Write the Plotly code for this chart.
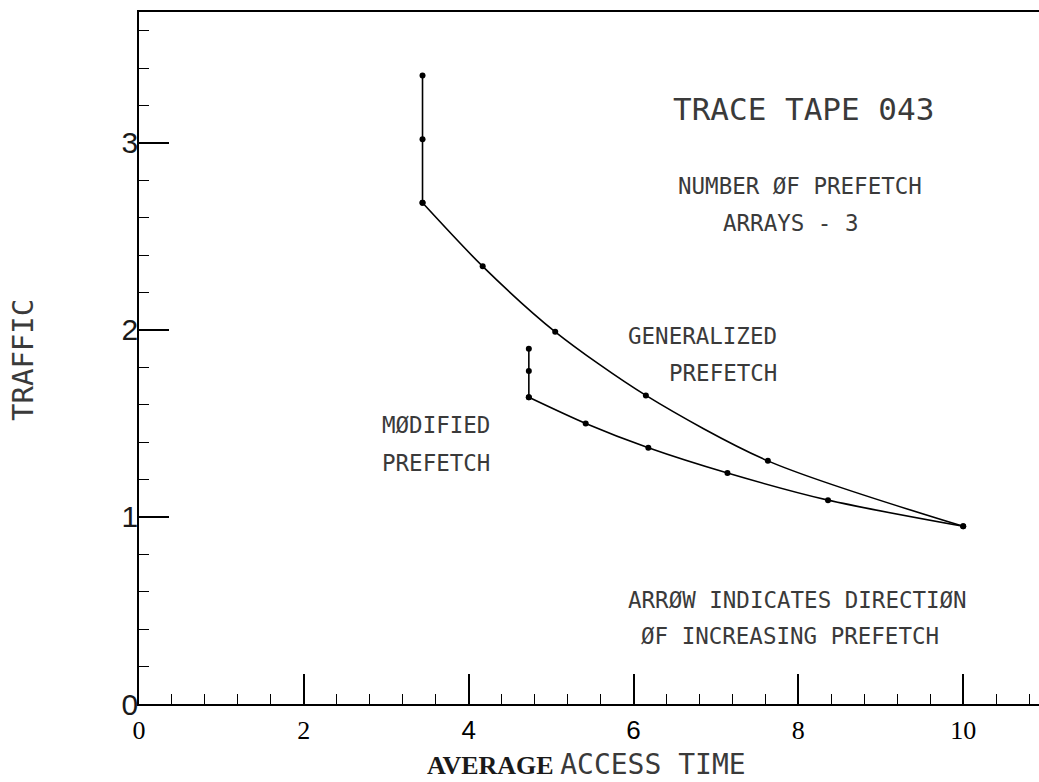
import plotly.graph_objects as go

# Average access time vs. traffic, two prefetch strategies
gen_x = [3.44, 3.44, 3.44, 4.17, 5.05, 6.15, 7.63, 10.0]
gen_y = [3.36, 3.02, 2.68, 2.34, 1.99, 1.65, 1.30, 0.95]

mod_x = [4.73, 4.73, 4.73, 5.42, 6.18, 7.14, 8.36, 10.0]
mod_y = [1.90, 1.78, 1.64, 1.50, 1.37, 1.235, 1.09, 0.95]

x_tick_vals = [0, 2, 4, 6, 8, 10]
x_tick_text = ["0", "2", "4", "6", "8", "10"]
y_tick_vals = [0, 1, 2, 3]
y_tick_text = ["0", "1", "2", "3"]

PLOTTER = "DejaVu Sans Mono"
SANS = "Liberation Sans"
SERIF = "Liberation Serif"
INK = "#1a1a1a"
PEN = "#3a3a3a"


def sans_span(t):
    return f"<span style=\"font-family:'{SANS}'\">{t}</span>"


# the 4 and 6 labels were lettered with the stencil face
x_tick_labels = [sans_span(t) if t in ("4", "6") else t for t in x_tick_text]

fig = go.Figure()

line_style = dict(color="black", width=1.6)
marker_style = dict(color="black", size=6)

for xs, ys in ((gen_x, gen_y), (mod_x, mod_y)):
    # straight vertical run at the smallest prefetch sizes
    fig.add_trace(go.Scatter(x=xs[:3], y=ys[:3], mode="lines+markers",
                             line=line_style, marker=marker_style,
                             showlegend=False, hoverinfo="skip"))
    # smooth curve from the corner outwards
    fig.add_trace(go.Scatter(x=xs[2:], y=ys[2:], mode="lines+markers",
                             line=dict(shape="spline", smoothing=0.8, **line_style),
                             marker=marker_style,
                             showlegend=False, hoverinfo="skip"))

notes = [
    ("TRACE TAPE 043", 8.06, 3.18, 31, "center"),
    ("NUMBER ØF PREFETCH", 8.02, 2.77, 22.5, "center"),
    ("ARRAYS - 3", 7.90, 2.57, 22.5, "center"),
    ("GENERALIZED", 7.76, 1.97, 22.5, "right"),
    ("PREFETCH", 7.76, 1.77, 22.5, "right"),
    ("MØDIFIED", 2.92, 1.49, 22.5, "left"),
    ("PREFETCH", 2.92, 1.29, 22.5, "left"),
    ("ARRØW INDICATES DIRECTIØN", 7.99, 0.556, 22.5, "center"),
    ("ØF INCREASING PREFETCH", 7.90, 0.364, 22.5, "center"),
]
for text, x, y, size, anchor in notes:
    fig.add_annotation(x=x, y=y, xref="x", yref="y", text=text, showarrow=False,
                       xanchor=anchor, yanchor="middle",
                       font=dict(family=PLOTTER, size=size, color=PEN))

# axis titles
fig.add_annotation(
    x=0.497, y=-0.087, xref="paper", yref="paper", showarrow=False,
    xanchor="center", yanchor="middle",
    text=(f"<b>AVERAGE</b> "
          f"<span style=\"font-family:'{PLOTTER}';font-size:28px;fill:{PEN}\">ACCESS TIME</span>"),
    font=dict(family=SERIF, size=26, color=INK))
fig.add_annotation(
    x=-0.129, y=0.497, xref="paper", yref="paper", showarrow=False,
    xanchor="center", yanchor="middle", textangle=-90,
    text="TRAFFIC", font=dict(family=PLOTTER, size=29, color=PEN))

fig.update_xaxes(
    range=[0, 10.92], showgrid=False, zeroline=False,
    showline=True, linecolor="black", linewidth=1.5, mirror=True,
    ticks="inside", ticklen=30, tickwidth=1.5, tickcolor="black",
    tickvals=x_tick_vals, ticktext=x_tick_labels,
    tickfont=dict(family=SERIF, size=26, color="black"),
    ticklabelstandoff=2,
    minor=dict(ticks="inside", ticklen=10, tickwidth=1.3, tickcolor="black",
               dtick=0.4, showgrid=False),
)
fig.update_yaxes(
    range=[0, 3.70], showgrid=False, zeroline=False,
    showline=True, linecolor="black", linewidth=1.5, mirror=False,
    ticks="inside", ticklen=30, tickwidth=1.5, tickcolor="black",
    tickvals=y_tick_vals, ticktext=y_tick_text,
    tickfont=dict(family=SANS, size=30, color=INK),
    ticklabelstandoff=-7,
    minor=dict(ticks="inside", ticklen=10, tickwidth=1.3, tickcolor="black",
               dtick=0.2, showgrid=False),
)

fig.update_layout(
    width=1039, height=782,
    margin=dict(l=139, r=0, t=12, b=78),
    paper_bgcolor="white", plot_bgcolor="white",
    showlegend=False,
)

fig.write_html("out.html")
